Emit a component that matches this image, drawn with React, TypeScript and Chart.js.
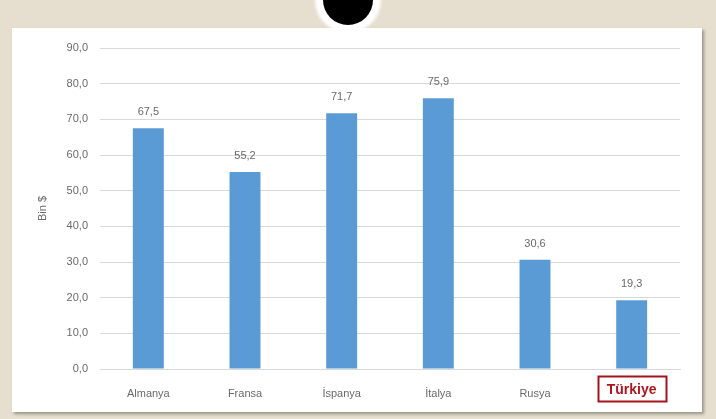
import React, { useEffect, useRef } from 'react';
import { Chart, registerables } from 'chart.js';

Chart.register(...registerables);

const categories = ['Almanya', 'Fransa', 'İspanya', 'İtalya', 'Rusya', 'Türkiye'];
const values = [67.5, 55.2, 71.7, 75.9, 30.6, 19.3];
const yMin = 0;
const yMax = 90;
const yStep = 10;
const yTitle = 'Bin $';
const highlightIndex = 5;

const fmt = (v: number) => v.toFixed(1).replace('.', ',');
const FONT = '"Liberation Sans", Arial, sans-serif';
const TEXT = '#6a6a6a';
const X_PAD = 10;

const dataLabels = {
  id: 'dataLabels',
  afterDatasetsDraw(chart: any) {
    const { ctx } = chart;
    const meta = chart.getDatasetMeta(0);
    ctx.save();
    ctx.font = `11px ${FONT}`;
    ctx.fillStyle = TEXT;
    ctx.textAlign = 'center';
    ctx.textBaseline = 'middle';
    meta.data.forEach((bar: any, i: number) => {
      ctx.fillText(fmt(values[i]), bar.x, bar.y - 16);
    });
    ctx.restore();
  },
};

const highlightBox = {
  id: 'highlightBox',
  afterDraw(chart: any) {
    const { ctx } = chart;
    const xs = chart.scales.x;
    const cx = xs.getPixelForTick(highlightIndex);
    const cy = xs.top + X_PAD + 9;
    ctx.save();
    ctx.font = `bold 14px ${FONT}`;
    const w = ctx.measureText(categories[highlightIndex]).width + 18;
    const h = 25;
    ctx.strokeStyle = '#a3151c';
    ctx.lineWidth = 2;
    ctx.strokeRect(Math.round(cx - w / 2) + 0.5, Math.round(cy - h / 2) + 0.5, Math.round(w), h);
    ctx.restore();
  },
};

export default function App() {
  const ref = useRef<HTMLCanvasElement | null>(null);

  useEffect(() => {
    if (!ref.current) return;
    const chart = new Chart(ref.current, {
      type: 'bar',
      data: {
        labels: categories,
        datasets: [
          {
            data: values,
            backgroundColor: '#5b9bd5',
            barPercentage: 0.32,
            categoryPercentage: 1,
          },
        ],
      },
      options: {
        responsive: false,
        animation: false,
        devicePixelRatio: 1,
        layout: { padding: { top: 20, right: 22, bottom: 0, left: 0 } },
        plugins: {
          legend: { display: false },
          tooltip: { enabled: false },
        },
        scales: {
          x: {
            grid: { display: false },
            border: { display: true, color: '#d9d9d9' },
            ticks: {
              padding: X_PAD,
              maxRotation: 0,
              autoSkip: false,
              color: (c: any) => (c.index === highlightIndex ? '#b0141c' : TEXT),
              font: (c: any) =>
                c.index === highlightIndex
                  ? { family: FONT, size: 14, weight: 'bold', lineHeight: '6px' }
                  : { family: FONT, size: 11 },
            },
            afterFit: (s: any) => {
              s.height = 43;
            },
          },
          y: {
            min: yMin,
            max: yMax,
            border: { display: false },
            grid: { color: '#d9d9d9', drawTicks: false },
            ticks: {
              stepSize: yStep,
              padding: 12,
              color: TEXT,
              font: { family: FONT, size: 11 },
              callback: (v: any) => fmt(Number(v)),
            },
            title: {
              display: true,
              text: yTitle,
              color: TEXT,
              font: { family: FONT, size: 11 },
              padding: { top: 24, bottom: 0 },
            },
            afterFit: (s: any) => {
              s.width = 88;
            },
          },
        },
      },
      plugins: [dataLabels, highlightBox],
    });
    return () => chart.destroy();
  }, []);

  return (
    <div
      style={{
        position: 'fixed',
        left: 0,
        top: 0,
        width: 716,
        height: 419,
        background: '#e6dfd0',
        overflow: 'hidden',
      }}
    >
      <div
        style={{
          position: 'absolute',
          left: 12,
          top: 28,
          width: 690,
          height: 384,
          background: '#ffffff',
          boxShadow: '2px 2px 3px rgba(0,0,0,0.35)',
        }}
      >
        <canvas ref={ref} width={690} height={384} style={{ width: 690, height: 384, display: 'block' }} />
      </div>
      <div
        style={{
          position: 'absolute',
          left: 348 - 33,
          top: -33,
          width: 66,
          height: 66,
          borderRadius: '50%',
          background: '#ffffff',
          filter: 'blur(1.5px)',
        }}
      />
      <div
        style={{
          position: 'absolute',
          left: 348 - 25,
          top: -25,
          width: 50,
          height: 50,
          borderRadius: '50%',
          background: '#000000',
        }}
      />
    </div>
  );
}
